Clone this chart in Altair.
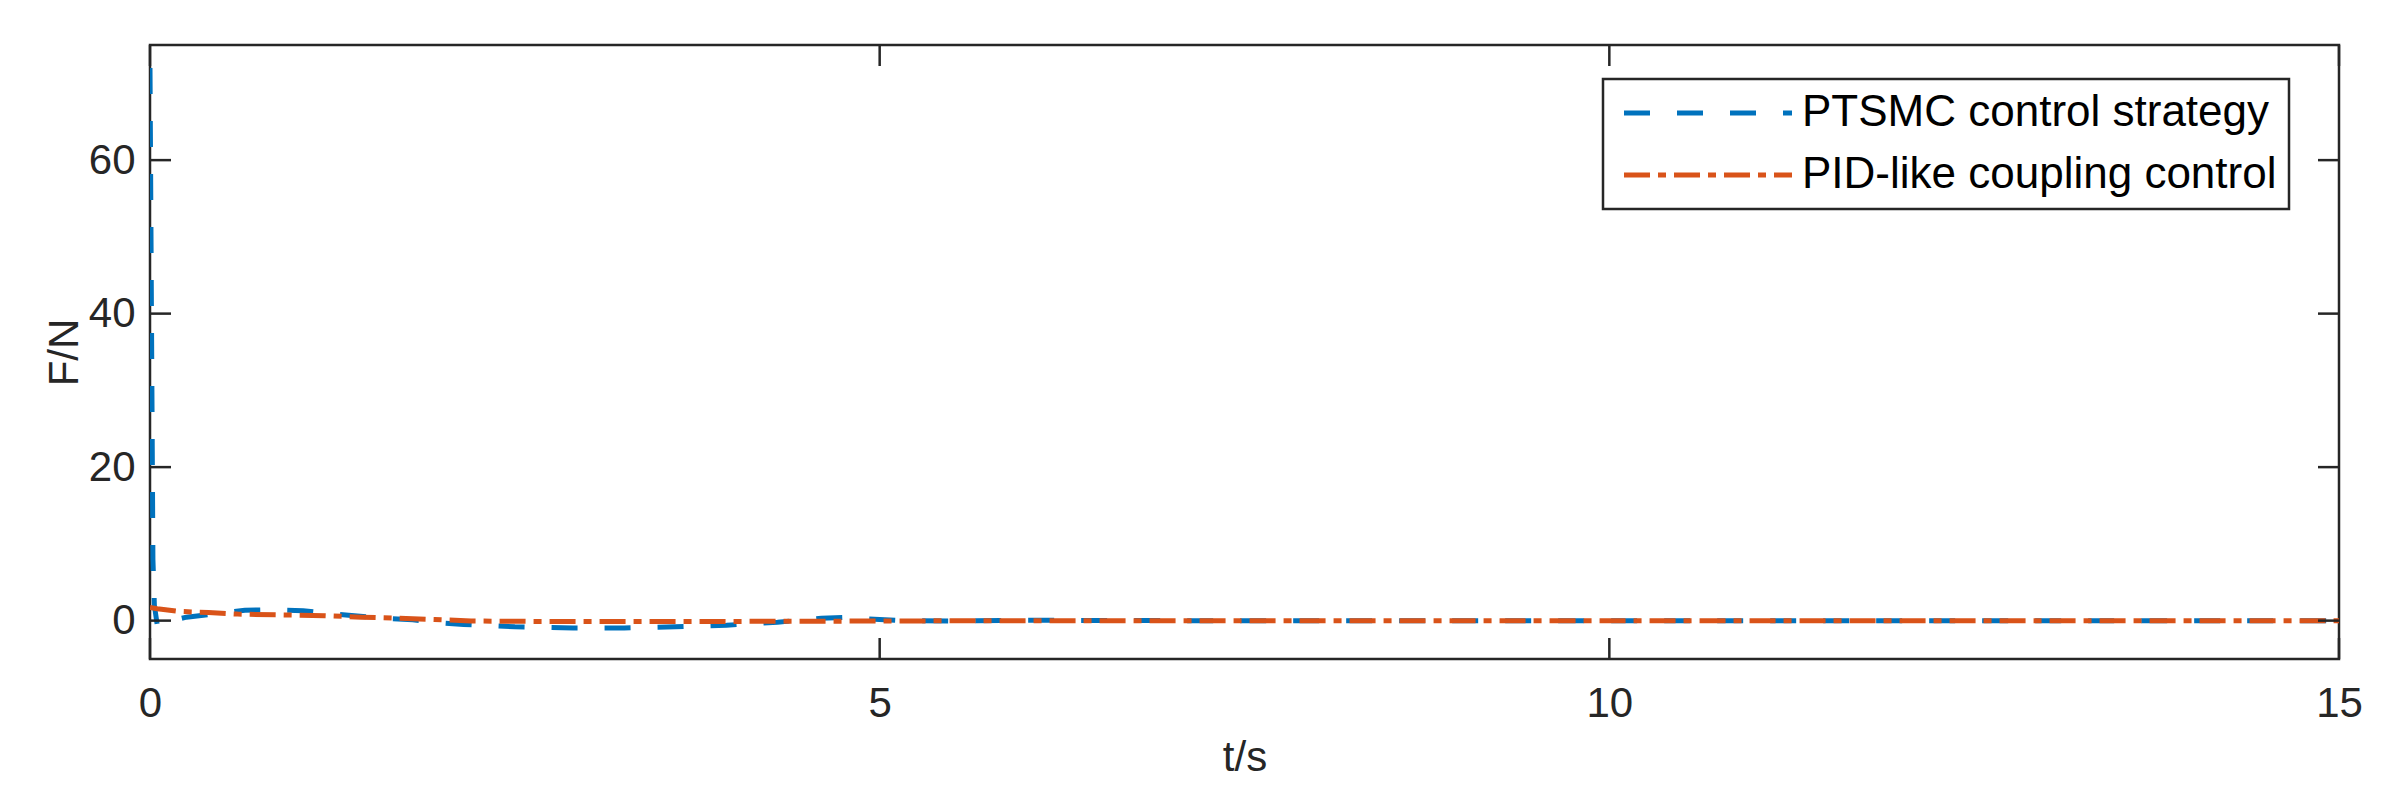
import altair as alt
import pandas as pd

# ---- data ----
series_names = ["PTSMC control strategy", "PID-like coupling control"]
series_colors = ["#0072BD", "#D95319"]
series_dashes = [[26, 27], [26, 8, 8, 8]]

t_ptsmc = [0, 0.01, 0.02, 0.03, 0.05, 0.1, 0.25, 0.45, 0.65, 0.8, 1.05, 1.25, 1.42, 1.6, 1.8,
           2.0, 2.15, 2.5, 2.9, 3.25, 3.6, 3.95, 4.3, 4.6, 4.75, 4.9, 5.15, 5.5, 6.0, 7.0,
           8.0, 9.0, 10.0, 11.0, 12.0, 13.0, 14.0, 15.0]
f_ptsmc = [72, 40, 8, 2, -0.6, -0.2, 0.45, 0.9, 1.35, 1.4, 1.3, 0.9, 0.6, 0.3, 0.1,
           -0.3, -0.5, -0.8, -0.95, -0.95, -0.8, -0.6, -0.2, 0.3, 0.4, 0.25, 0.0, -0.05, 0.05, 0,
           0, 0, 0, 0, 0, 0, 0, 0]

t_pid = [0, 0.05, 0.2, 0.4, 0.6, 0.9, 1.2, 1.45, 1.7, 1.95, 2.2, 2.6, 3.0, 3.5, 4.0,
         4.5, 5.0, 6.0, 7, 8, 9, 10, 11, 12, 13, 14, 15]
f_pid = [1.7, 1.55, 1.2, 1.05, 0.85, 0.75, 0.65, 0.45, 0.3, 0.15, -0.05, -0.1, -0.12, -0.12, -0.1,
         -0.08, -0.05, 0, 0, 0, 0, 0, 0, 0, 0, 0, 0]

x_ticks = [0, 5, 10, 15]
y_ticks = [0, 20, 40, 60]
x_domain = [0, 15]
y_domain = [-5, 75]

# ---- layout ----
W, H = 2189, 614
FONT = "Liberation Sans"
TXT = "#262626"
TICK_LEN = 21

df_a = pd.DataFrame({"t": t_ptsmc, "F": f_ptsmc, "series": series_names[0]})
df_b = pd.DataFrame({"t": t_pid, "F": f_pid, "series": series_names[1]})
xt = pd.DataFrame({"t": x_ticks})
yt = pd.DataFrame({"F": y_ticks})

xscale = alt.Scale(domain=x_domain, nice=False, zero=False)
yscale = alt.Scale(domain=y_domain, nice=False, zero=False)
cscale = alt.Scale(domain=series_names, range=series_colors)
dscale = alt.Scale(domain=series_names, range=series_dashes)

x_axis = alt.Axis(
    values=x_ticks, title="t/s", grid=False, domain=False, ticks=False, tickSize=0,
    labelFontSize=42, labelFont=FONT, labelColor=TXT, labelPadding=24,
    titleFontSize=42, titleFont=FONT, titleColor=TXT, titleFontWeight="normal", titlePadding=13,
    labelFlush=False)
y_axis = alt.Axis(
    values=y_ticks, title="F/N", grid=False, domain=False, ticks=False, tickSize=0,
    labelFontSize=42, labelFont=FONT, labelColor=TXT, labelPadding=15,
    titleFontSize=42, titleFont=FONT, titleColor=TXT, titleFontWeight="normal", titlePadding=2)

x_enc = alt.X("t:Q", scale=xscale, axis=x_axis, title="t/s")
y_enc = alt.Y("F:Q", scale=yscale, axis=y_axis, title="F/N")

legend = alt.Legend(title=None, orient="none", legendX=1453, legendY=34,
                    symbolType="M0,0H16", symbolSize=441, symbolStrokeWidth=5,
                    symbolOffset=-13, labelOffset=156,
                    labelFontSize=44, labelFont=FONT, labelColor="#000000", labelLimit=0,
                    padding=12, rowPadding=18, strokeColor=TXT, fillColor="white")

def line_layer(df):
    return alt.Chart(df).mark_line(strokeWidth=5, clip=True).encode(
        x=x_enc, y=y_enc,
        color=alt.Color("series:N", scale=cscale, legend=legend),
        strokeDash=alt.StrokeDash("series:N", scale=dscale, legend=legend),
    )

lines_a = line_layer(df_a)
lines_b = line_layer(df_b)

tick_style = dict(color=TXT, strokeWidth=2.5)
bottom_ticks = alt.Chart(xt).mark_rule(**tick_style).encode(
    x=x_enc, y=alt.value(H), y2=alt.value(H - TICK_LEN))
top_ticks = alt.Chart(xt).mark_rule(**tick_style).encode(
    x=x_enc, y=alt.value(0), y2=alt.value(TICK_LEN))
left_ticks = alt.Chart(yt).mark_rule(**tick_style).encode(
    y=y_enc, x=alt.value(0), x2=alt.value(TICK_LEN))
right_ticks = alt.Chart(yt).mark_rule(**tick_style).encode(
    y=y_enc, x=alt.value(W - TICK_LEN), x2=alt.value(W))

chart = alt.layer(lines_a, lines_b, bottom_ticks, top_ticks, left_ticks, right_ticks).properties(
    width=W, height=H,
    autosize=alt.AutoSizeParams(type="none"),
    padding={"left": 142, "top": 37, "right": 50, "bottom": 130},
    background="white",
).configure_view(stroke=TXT, strokeWidth=2.5).configure_legend(
    orient="none", strokeWidth=2.5
)

chart.save("out.html", embed_options={"renderer": "svg", "actions": False})
